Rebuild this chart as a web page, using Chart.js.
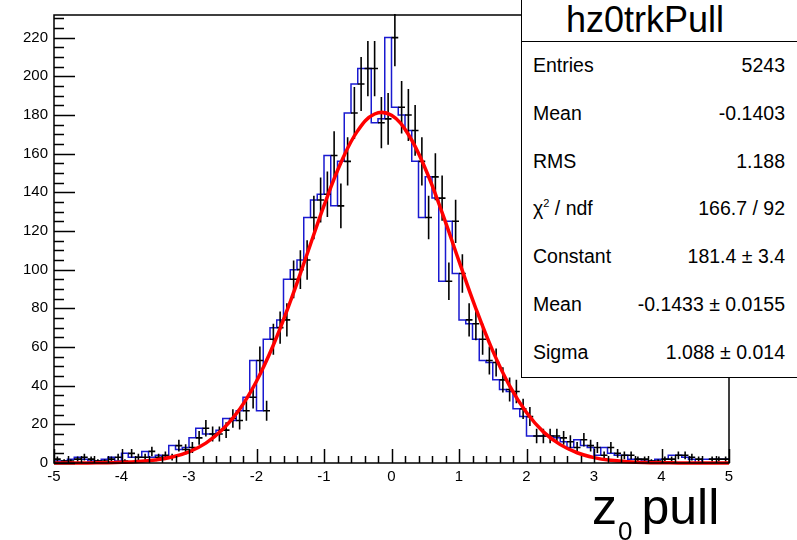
<!DOCTYPE html>
<html>
<head>
<meta charset="utf-8">
<script src="https://cdn.jsdelivr.net/npm/chart.js@4.4.0/dist/chart.umd.min.js"></script>
<style>
  body { margin: 0; background: #fff; }
  #wrap { position: relative; width: 797px; height: 540px; overflow: hidden; font-family: "Liberation Sans", Arial, sans-serif; color: #000; }
  #hist { position: absolute; left: 0; top: 0; }
  #statbox { position: absolute; left: 521px; top: -2px; width: 300px; height: 378px; border: 1.5px solid #000; background: #fff; }
  #statsep { position: absolute; left: 521px; top: 41px; width: 290px; height: 0; border-top: 1.5px solid #000; }
  #stattitle { position: absolute; left: 545px; width: 200px; top: 0px; line-height: 40px; font-size: 36px; text-align: center; }
  .slabel, .svalue { position: absolute; font-size: 19.5px; line-height: 24px; height: 24px; white-space: nowrap; }
  .slabel { left: 533px; }
  .svalue { right: 12px; text-align: right; }
  .slabel sup { font-size: 11px; line-height: 0; vertical-align: 0; position: relative; top: -8px; }
  #xtitle { position: absolute; left: 592px; top: 482px; font-size: 50px; line-height: 50px; white-space: nowrap; }
  #xtitle .sub { font-size: 26px; position: relative; top: 16px; margin-left: 1px; }
</style>
</head>
<body>
<div id="wrap">
  <canvas id="hist" width="797" height="540"></canvas>
  <div id="statbox"></div>
  <div id="statsep"></div>
  <div id="stattitle"></div>
  <div id="stats"></div>
  <div id="xtitle">z<span class="sub">0</span><span style="margin-left:9px">pull</span></div>
</div>
<script>
// histogram binning (x axis -5..5, 100 bins)
const xMin = -5;
const xMax = 5;
const binWidth = 0.1;

// bin contents
const counts = [
  2, 1, 1, 2, 3, 2, 1, 1, 2, 3,
  1, 5, 3, 3, 6, 3, 4, 3, 9, 7,
  8, 13, 18, 15, 15, 17, 23, 22, 27, 34,
  53, 27, 64, 70, 74, 95, 100, 105, 127, 136,
  139, 159, 133, 156, 181, 196, 204, 204, 176, 178,
  220, 184, 180, 172, 156, 127, 148, 137, 94, 125,
  98, 74, 72, 64, 53, 52, 43, 38, 37, 28,
  24, 14, 14, 14, 14, 13, 11, 8, 12, 9,
  8, 4, 8, 5, 4, 4, 2, 2, 1, 1,
  2, 2, 4, 4, 3, 2, 0, 2, 2, 2
];

// red fit curve, read at every 0.25
const fitX = [-5, -4.75, -4.5, -4.25, -4, -3.75, -3.5, -3.25, -3, -2.75, -2.5, -2.25, -2, -1.75, -1.5, -1.25, -1, -0.75, -0.5, -0.25,
  0, 0.25, 0.5, 0.75, 1, 1.25, 1.5, 1.75, 2, 2.25, 2.5, 2.75, 3, 3.25, 3.5, 3.75, 4, 4.25, 4.5, 4.75, 5];
const fitY = [0.01, 0.02, 0.06, 0.15, 0.34, 0.75, 1.6, 3.1, 5.8, 10.3, 17.4, 27.8, 42.3, 61.0, 83.4, 108.1, 133.1, 155.3, 171.9, 180.5,
  179.8, 169.9, 152.3, 129.5, 104.4, 79.9, 58.0, 39.9, 26.1, 16.1, 9.5, 5.3, 2.8, 1.4, 0.7, 0.3, 0.13, 0.05, 0.02, 0.01, 0.003];

const yMax = 231.7;
const yStep = 20;
const xStep = 1;

// stats box
const statTitle = "hz0trkPull";
const statLabels = ["Entries", "Mean", "RMS", "χ<sup>2</sup> / ndf", "Constant", "Mean", "Sigma"];
const statValues = ["5243", "-0.1403", "1.188", "166.7 / 92", "181.4 ± 3.4", "-0.1433 ± 0.0155", "1.088 ± 0.014"];

document.getElementById("stattitle").textContent = statTitle;
let statsHtml = "";
for (let i = 0; i < statLabels.length; i++) {
  let top = 65 + i * 47.8 - 12;
  statsHtml += `<div class="slabel" style="top:${top}px">${statLabels[i]}</div>`;
  statsHtml += `<div class="svalue" style="top:${top}px">${statValues[i]}</div>`;
}
document.getElementById("stats").innerHTML = statsHtml;

// blue step outline: left edge of every bin plus the last right edge
let stepData = counts.map((c, i) => ({ x: xMin + i * binWidth, y: c }));
stepData.push({ x: xMax, y: counts[counts.length - 1] });

const rootLook = {
  id: "rootLook",
  afterDatasetDraw(chart, args) {
    if (args.index !== 1) return;
    const { ctx, chartArea: a } = chart;
    const sx = chart.scales.x, sy = chart.scales.y;
    ctx.save();
    ctx.beginPath();
    ctx.rect(a.left, a.top - 1, a.right - a.left, a.bottom - a.top + 1);
    ctx.clip();
    ctx.strokeStyle = "#000";
    ctx.lineWidth = 1.6;
    ctx.beginPath();
    counts.forEach((c, i) => {
      if (c <= 0) return;
      let lo = xMin + i * binWidth;
      let py = sy.getPixelForValue(c);
      ctx.moveTo(sx.getPixelForValue(lo), py);
      ctx.lineTo(sx.getPixelForValue(lo + binWidth), py);
      let e = Math.sqrt(c);
      let px = sx.getPixelForValue(lo + binWidth / 2);
      ctx.moveTo(px, sy.getPixelForValue(c - e));
      ctx.lineTo(px, sy.getPixelForValue(c + e));
    });
    ctx.stroke();
    ctx.restore();
  },
  afterDraw(chart) {
    const { ctx, chartArea: a } = chart;
    const sx = chart.scales.x, sy = chart.scales.y;
    ctx.save();
    ctx.strokeStyle = "#000";
    ctx.lineWidth = 1.5;
    ctx.strokeRect(a.left, a.top, a.right - a.left, a.bottom - a.top);
    ctx.beginPath();
    // y ticks (major 20, minor 5)
    for (let v = 0; v <= yMax; v += 5) {
      let len = v % yStep === 0 ? 21 : 10;
      let py = Math.round(sy.getPixelForValue(v)) + 0.5;
      ctx.moveTo(a.left, py);
      ctx.lineTo(a.left + len, py);
    }
    // x ticks (major 1, minor 0.2)
    for (let k = 0; k <= 50; k++) {
      let v = xMin + k * 0.2;
      let len = k % 5 === 0 ? 14 : 7;
      let px = Math.round(sx.getPixelForValue(v)) + 0.5;
      ctx.moveTo(px, a.bottom);
      ctx.lineTo(px, a.bottom - len);
    }
    ctx.stroke();
    ctx.restore();
  }
};

new Chart(document.getElementById("hist"), {
  type: "line",
  data: {
    datasets: [
      {
        label: "fit",
        data: fitX.map((x, i) => ({ x: x, y: fitY[i] })),
        borderColor: "#ff0000",
        borderWidth: 3.5,
        pointRadius: 0,
        tension: 0.4,
        fill: false,
        clip: 4
      },
      {
        label: "hz0trkPull",
        data: stepData,
        borderColor: "#1a1ad0",
        borderWidth: 1.5,
        pointRadius: 0,
        stepped: "after",
        fill: false
      }
    ]
  },
  options: {
    responsive: false,
    animation: false,
    layout: { padding: { top: 13, right: 68, left: 0, bottom: 0 } },
    plugins: { legend: { display: false }, tooltip: { enabled: false } },
    scales: {
      x: {
        type: "linear",
        min: xMin,
        max: xMax,
        grid: { display: false, drawTicks: false },
        border: { display: false },
        ticks: { stepSize: xStep, color: "#000", padding: 5, maxRotation: 0, font: { family: "Liberation Sans", size: 15 } },
        afterFit(scale) { scale.height = 77; }
      },
      y: {
        min: 0,
        max: yMax,
        grid: { display: false, drawTicks: false },
        border: { display: false },
        ticks: { stepSize: yStep, includeBounds: false, color: "#000", padding: 6, font: { family: "Liberation Sans", size: 15 } },
        afterFit(scale) { scale.width = 54; }
      }
    }
  },
  plugins: [rootLook]
});
</script>
</body>
</html>
